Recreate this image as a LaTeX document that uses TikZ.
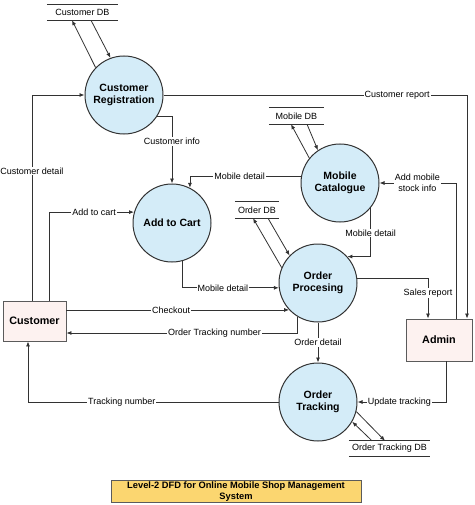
\documentclass[tikz,border=0pt]{standalone}
\usepackage{fontspec}
\setmainfont{Liberation Sans}
\usetikzlibrary{arrows.meta}
\definecolor{procfill}{RGB}{212,236,248}
\definecolor{entfill}{RGB}{253,242,240}
\definecolor{titlefill}{RGB}{251,214,112}
\definecolor{linegray}{RGB}{50,50,50}

\begin{document}
\begin{tikzpicture}[x=1pt,y=-1pt,
    process/.style={circle,draw=linegray,line width=1pt,fill=procfill,minimum size=78pt,inner sep=0pt,align=center,font=\fontsize{10.5}{12.5}\selectfont\bfseries},
    entity/.style={rectangle,draw=linegray!80,line width=0.9pt,fill=entfill,inner sep=0pt,font=\fontsize{10.8}{12}\selectfont\bfseries},
    store/.style={inner sep=0pt,minimum height=16pt,font=\fontsize{9}{10}\selectfont},
    flow/.style={draw=linegray,line width=0.8pt,-{Latex[length=5pt,width=4pt]}},
    lbl/.style={fill=white,inner sep=1pt,font=\fontsize{9}{10.5}\selectfont,align=center}]
    \useasboundingbox (0,0) rectangle (474,505);
        % processes
        \node[process] (crg) at (124,95) {Customer\\Registration};
        \node[process] (atc) at (172,223) {Add to Cart};
        \node[process] (cat) at (340,183) {Mobile\\Catalogue};
        \node[process] (op) at (318,283) {Order\\Procesing};
        \node[process] (ot) at (318,402) {Order\\Tracking};
        % external entities
        \node[entity,minimum width=63pt,minimum height=40pt] (cust) at (34.5,321) {Customer};
        \node[entity,minimum width=66pt,minimum height=42pt] (admin) at (439,340) {Admin};
        % data stores
        \node[store,minimum width=71pt,minimum height=15.5pt] (cdb) at (82.5,12.3) {Customer DB};
        \node[store,minimum width=55pt] (mdb) at (296.5,116) {Mobile DB};
        \node[store,minimum width=44pt] (odb) at (257,210) {Order DB};
        \node[store,minimum width=81pt,minimum height=15pt] (otdb) at (389.5,448.5) {Order Tracking DB};
        \foreach \s in {cdb,mdb,odb,otdb}
            \draw[linegray,line width=0.8pt] (\s.north west) -- (\s.north east) (\s.south west) -- (\s.south east);
        % store flows
        \draw[flow] (crg.136) -- ([xshift=-10.5pt]cdb.south);
        \draw[flow] ([xshift=8.5pt]cdb.south) -- (crg.110);
        \draw[flow] (cat.141) -- ([xshift=-5.5pt]mdb.south);
        \draw[flow] ([xshift=10.5pt]mdb.south) -- (cat.124);
        \draw[flow] (op.157) -- ([xshift=-4pt]odb.south);
        \draw[flow] ([xshift=11pt]odb.south) -- (op.136);
        \draw[flow] (ot.-14) -- ([xshift=-4.5pt]otdb.north);
        \draw[flow] ([xshift=-17.5pt]otdb.north) -- (ot.-30);
        % data flows
        \draw[flow] ([xshift=-2.5pt]cust.north) |- node[lbl,pos=0.315] {Customer detail} (crg);
        \draw[flow] ([xshift=14.5pt]cust.north) |- node[lbl,pos=0.765] {Add to cart} (atc.164);
        \draw[flow] (crg.-33) -| node[lbl,pos=0.687] {Customer info} (atc.north);
        \draw[flow] (cat.170) -| node[lbl,pos=0.277] {Mobile detail} (atc.63);
        \draw[flow] (crg.east) -| node[lbl,pos=0.385] {Customer report} ([xshift=28pt]admin.north);
        \draw[flow] ([xshift=17pt]admin.north) |- node[lbl,pos=0.753] {Add mobile\\stock info} (cat.east);
        \draw[flow] (cat.-39) |- node[lbl,pos=0.26] {Mobile detail} (op.42);
        \draw[flow] (atc.-75) |- node[lbl,pos=0.71] {Mobile detail} (op.187);
        \draw[flow] (op.223 -| cust.east) -- node[lbl,pos=0.47] {Checkout} (op.223);
        \draw[flow] (op.239) |- node[lbl,pos=0.68] {Order Tracking number} ([yshift=-12pt]cust.east);
        \draw[flow] (op.6) -| node[lbl,pos=0.675] {Sales report} ([xshift=-11pt]admin.north);
        \draw[flow] (op.south) -- node[lbl] {Order detail} (ot.north);
        \draw[flow] (ot.west) -| node[lbl,pos=0.313] {Tracking number} ([xshift=-6.5pt]cust.south);
        \draw[flow] ([xshift=7pt]admin.south) |- node[lbl,pos=0.764] {Update tracking} (ot.east);
        % title
        \node[draw=linegray!80,line width=0.9pt,fill=titlefill,minimum width=250pt,minimum height=21pt,inner sep=1pt,align=center,font=\fontsize{9.3}{10.5}\selectfont\bfseries] (title) at (236,491.5) {Level-2 DFD for Online Mobile Shop Management\\System};
    \end{tikzpicture}
\end{document}
